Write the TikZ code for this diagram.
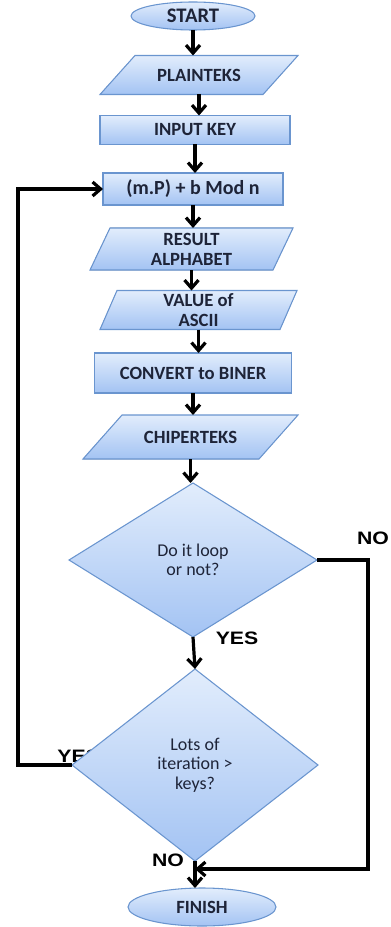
\documentclass[tikz,border=0pt]{standalone}
\usepackage{fontspec}
\setmainfont{Carlito}
\newfontfamily\answerfont[FakeStretch=1.18]{Liberation Sans}
\usetikzlibrary{shapes.geometric,arrows.meta}

\begin{document}
\begin{tikzpicture}[x=0.75pt, y=-0.75pt,
    %Option for the flow arrows
    >={Straight Barb[length=6pt,width=10.5pt]}, %
    inner sep=1pt, outer sep=0pt,%
    flow/.style={line width=2.4pt,->},
    box/.style={draw=boxline, line width=0.8pt, top color=boxtop, bottom color=boxbot,
        text=boxtext, align=center, font=\fontsize{14}{15}\selectfont\bfseries},
    term/.style={box, ellipse, minimum width=#1},
    proc/.style={box, rectangle, minimum width=#1},
    iobg/.style={draw=boxline, line width=0.8pt, top color=boxtop, bottom color=boxbot},
    io/.style={rectangle, text=boxtext, align=center, font=\fontsize{14}{15}\selectfont\bfseries},
    ask/.style={box, diamond, font=\fontsize{13.5}{14.5}\selectfont, minimum width=#1},
    lbl/.style={font=\answerfont\fontsize{13.5}{15}\selectfont\bfseries, text=black},
]
    % Colors
    \definecolor{boxtop}{HTML}{E2EDFC}
    \definecolor{boxbot}{HTML}{A3C3F3}
    \definecolor{boxline}{HTML}{6A95CF}
    \definecolor{boxtext}{HTML}{1E2438}

    % Frame
    \useasboundingbox (0,0) rectangle (391,927);

    % Labels hidden behind the diamonds
    \node (yesleft) [lbl, anchor=west] at (56,756) {YES};

    % Steps
    \node (start) [term=93pt, minimum height=21pt, font=\fontsize{15.5}{16}\selectfont\bfseries]
        at (193,16) {START};
    \node (key) [proc=142.5pt, minimum height=21.75pt] at (195,130) {INPUT KEY};
    \node (calc) [proc=135pt, minimum height=24pt, font=\fontsize{15}{16}\selectfont\bfseries]
        at (193,189) {(m.P) + b Mod n};
    \node (biner) [proc=148pt, minimum height=30pt] at (193,373) {CONVERT to BINER};

    % Data (parallelograms): name/centre x/centre y/top edge/height/slant/text
    \foreach \n/\cx/\cy/\w/\h/\s/\txt in {plain/199/75/163/39/35/PLAINTEKS,
        result/191.5/249/183/42/20/{RESULT\\ALPHABET},
        ascii/198.5/310/180/39/17/{VALUE of\\ASCII},
        chiper/190.5/437/176/44/39/CHIPERTEKS}{
        \filldraw[iobg] ({\cx-(\w+\s)/2},{\cy+\h/2}) -- ++(\w,0) -- ++(\s,-\h)
            -- ++(-\w,0) -- cycle;
        \node (\n) [io, minimum width={(\w-\s)*0.75pt}, minimum height={\h*0.75pt}]
            at (\cx,\cy) {\txt};
    }

    % Decisions
    \node (loop) [ask=186pt, minimum height=115.5pt] at (193,560) {Do it loop\\or not?};
    \node (iter) [ask=184.5pt, minimum height=144pt] at (195,765) {Lots of\\iteration >\\keys?};
    \node (finish) [term=111pt, minimum height=28.5pt] at (202,907) {FINISH};

    % Straight flow
    \foreach \a/\b in {start/plain, plain/key, key/calc, calc/result,
        result/ascii, ascii/biner, biner/chiper, chiper/loop, iter/finish}
        \draw[flow] (\a.south) -- (\a.south |- \b.north);
    \draw[flow] (loop.south) -- (iter.north);

    %Answers
    \node (yesdown) [lbl] at (237,638) {YES};
    \node (noright) [lbl] at (373,538) {NO};
    \node (nodown) [lbl] at (168,860) {NO};

    %Loop back and skip
    \coordinate (loopleft) at (18,189);
    \coordinate (skipright) at (368,560);
    \path (iter.south) ++(0,8) coordinate (join);
    \draw[flow] (iter.west) -| (loopleft) |- (calc.west);
    \draw[flow] (loop.east) -- (skipright) -- (skipright |- join) -- (join);

\end{tikzpicture}
\end{document}
